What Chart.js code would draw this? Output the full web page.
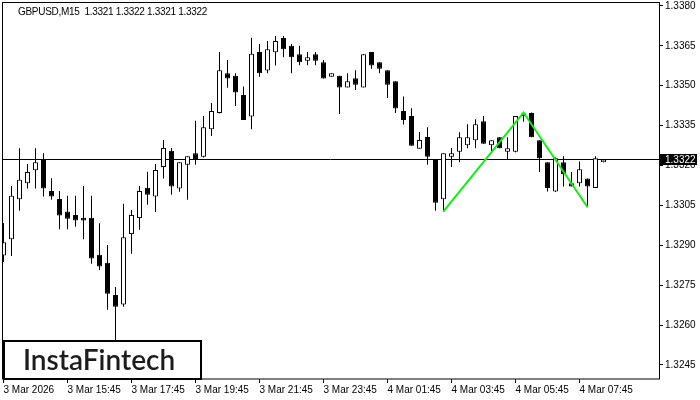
<!DOCTYPE html>
<html>
<head>
<meta charset="utf-8">
<script src="https://cdn.jsdelivr.net/npm/chart.js@4.4.1/dist/chart.umd.min.js"></script>
<style>
  html, body { margin: 0; padding: 0; background: #fff; }
  canvas { display: block; }
</style>
</head>
<body>
<canvas id="chart" width="700" height="400"></canvas>
<script>
// GBPUSD M15 candles, index 0 = 3 Mar 13:45, one bar every 15 minutes
const openPrices = [
  1.32861, 1.32923, 1.33073, 1.33133, 1.33182, 1.33224, 1.33104, 1.33074, 1.33027, 1.33014,
  1.33003, 1.33003, 1.32864, 1.32834, 1.32713, 1.32677, 1.32942, 1.33002, 1.33116, 1.33083,
  1.33194, 1.33255, 1.33113, 1.33203, 1.33246, 1.33233, 1.33336, 1.33397, 1.33547, 1.33537,
  1.33465, 1.33384, 1.33627, 1.33557, 1.33626, 1.33679, 1.33650, 1.33618, 1.33594, 1.33618,
  1.33588, 1.33534, 1.33537, 1.33493, 1.33528, 1.33493, 1.33627, 1.33588, 1.33558, 1.33517,
  1.33405, 1.33386, 1.33263, 1.33307, 1.33224, 1.33073, 1.33233, 1.33252, 1.33276, 1.33295,
  1.33366, 1.33276, 1.33306, 1.33252, 1.33252, 1.33386, 1.33397, 1.33295, 1.33212, 1.33102,
  1.33212, 1.33133, 1.33133, 1.33151, 1.33115, 1.33212
];
const highPrices = [
  1.32984, 1.33123, 1.33265, 1.33206, 1.33265, 1.33246, 1.33152, 1.33104, 1.33086, 1.33086,
  1.33123, 1.33086, 1.32983, 1.32901, 1.32743, 1.33056, 1.33033, 1.33123, 1.33176, 1.33206,
  1.33296, 1.33266, 1.33212, 1.33235, 1.33368, 1.33386, 1.33435, 1.33627, 1.33597, 1.33547,
  1.33497, 1.33680, 1.33657, 1.33668, 1.33687, 1.33687, 1.33657, 1.33650, 1.33627, 1.33627,
  1.33597, 1.33547, 1.33537, 1.33547, 1.33558, 1.33618, 1.33627, 1.33588, 1.33558, 1.33517,
  1.33459, 1.33415, 1.33326, 1.33344, 1.33224, 1.33246, 1.33266, 1.33325, 1.33355, 1.33374,
  1.33386, 1.33295, 1.33306, 1.33306, 1.33386, 1.33399, 1.33399, 1.33295, 1.33212, 1.33230,
  1.33235, 1.33175, 1.33215, 1.33151, 1.33235, 1.33222
];
const lowPrices = [
  1.32837, 1.32860, 1.33030, 1.33113, 1.33113, 1.33083, 1.33071, 1.32960, 1.32960, 1.32970,
  1.32923, 1.32830, 1.32807, 1.32657, 1.32542, 1.32669, 1.32868, 1.32958, 1.33052, 1.33025,
  1.33151, 1.33090, 1.33101, 1.33071, 1.33203, 1.33230, 1.33311, 1.33395, 1.33492, 1.33424,
  1.33371, 1.33336, 1.33534, 1.33547, 1.33576, 1.33607, 1.33547, 1.33577, 1.33577, 1.33577,
  1.33527, 1.33534, 1.33394, 1.33493, 1.33484, 1.33493, 1.33564, 1.33547, 1.33454, 1.33397,
  1.33354, 1.33274, 1.33263, 1.33203, 1.33030, 1.33027, 1.33194, 1.33212, 1.33265, 1.33265,
  1.33282, 1.33252, 1.33265, 1.33224, 1.33250, 1.33364, 1.33306, 1.33175, 1.33102, 1.33100,
  1.33121, 1.33121, 1.33121, 1.33043, 1.33115, 1.33212
];
const closePrices = [
  1.32911, 1.33086, 1.33146, 1.33175, 1.33212, 1.33113, 1.33083, 1.33012, 1.33000, 1.32993,
  1.32993, 1.32850, 1.32820, 1.32718, 1.32669, 1.32930, 1.33014, 1.33104, 1.33090, 1.33183,
  1.33266, 1.33121, 1.33212, 1.33235, 1.33224, 1.33344, 1.33405, 1.33558, 1.33527, 1.33474,
  1.33371, 1.33620, 1.33547, 1.33637, 1.33668, 1.33637, 1.33607, 1.33588, 1.33607, 1.33594,
  1.33527, 1.33547, 1.33493, 1.33517, 1.33504, 1.33618, 1.33576, 1.33564, 1.33504, 1.33414,
  1.33371, 1.33274, 1.33296, 1.33233, 1.33060, 1.33246, 1.33246, 1.33306, 1.33306, 1.33355,
  1.33282, 1.33295, 1.33265, 1.33265, 1.33386, 1.33395, 1.33306, 1.33227, 1.33115, 1.33227,
  1.33167, 1.33121, 1.33186, 1.33121, 1.33227, 1.33222
];

// pattern line (double top): bar index / price
const patternIndex = [55, 65, 73];
const patternPrices = [1.33027, 1.33399, 1.33043];

const xTickIndex = [0, 8, 16, 24, 32, 40, 48, 56, 64, 72];
const xTickLabels = ['3 Mar 2026', '3 Mar 15:45', '3 Mar 17:45', '3 Mar 19:45', '3 Mar 21:45',
  '3 Mar 23:45', '4 Mar 01:45', '4 Mar 03:45', '4 Mar 05:45', '4 Mar 07:45'];
const yTickLabels = ['1.3245', '1.3260', '1.3275', '1.3290', '1.3305', '1.3320', '1.3335', '1.3350', '1.3365', '1.3380'];

const symbolTitle = 'GBPUSD,M15  1.3321 1.3322 1.3321 1.3322';
const lastPrice = 1.3322;
const lastPriceLabel = '1.3322';
const logoText = 'InstaFintech';

const axisFont = { family: 'Liberation Sans', size: 10 };

document.addEventListener('DOMContentLoaded', () => {
  const wicks = lowPrices.map((lo, i) => ({ x: i, y: [lo, highPrices[i]] }));
  const bodies = openPrices.map((o, i) => ({ x: i, y: [Math.min(o, closePrices[i]), Math.max(o, closePrices[i])] }));
  const bodyColors = openPrices.map((o, i) => (closePrices[i] >= o ? '#ffffff' : '#000000'));
  const pattern = patternIndex.map((x, i) => ({ x: x, y: patternPrices[i] }));

  const chartDecor = {
    id: 'chartDecor',
    beforeDatasetsDraw(chart) {
      const { ctx, chartArea } = chart;
      const py = Math.round(chart.scales.y.getPixelForValue(lastPrice)) - 0.5;
      ctx.save();
      ctx.strokeStyle = '#000';
      ctx.lineWidth = 1;
      ctx.beginPath();
      ctx.moveTo(chartArea.left, py);
      ctx.lineTo(chartArea.right, py);
      ctx.stroke();
      ctx.restore();
    },
    afterDraw(chart) {
      const { ctx, chartArea } = chart;
      ctx.save();
      // frame
      ctx.strokeStyle = '#000';
      ctx.lineWidth = 1;
      ctx.strokeRect(chartArea.left + 0.5, chartArea.top - 0.5, chartArea.right - chartArea.left, chartArea.bottom - chartArea.top + 0.5);

      // title
      ctx.fillStyle = '#000';
      ctx.font = '10px "Liberation Sans"';
      ctx.textBaseline = 'alphabetic';
      ctx.textAlign = 'left';
      ctx.letterSpacing = '-0.3px';
      ctx.fillText(symbolTitle, 18, 14.5);
      ctx.letterSpacing = '0px';

      // current price box
      const py = Math.round(chart.scales.y.getPixelForValue(lastPrice)) - 0.5;
      ctx.fillStyle = '#000';
      ctx.fillRect(chartArea.right + 1, py - 5.5, 37, 11);
      ctx.fillStyle = '#fff';
      ctx.textBaseline = 'middle';
      ctx.fillText(lastPriceLabel, chartArea.right + 6, py + 0.5);

      // logo
      ctx.fillStyle = '#fff';
      ctx.fillRect(4, 341, 197, 38);
      ctx.strokeStyle = '#000';
      ctx.lineWidth = 2;
      ctx.strokeRect(4, 341, 197, 38);
      ctx.fillStyle = '#1c1c1c';
      ctx.font = '600 28px Lato';
      ctx.textBaseline = 'alphabetic';
      ctx.fillText(logoText, 23, 369.5, 158);
      ctx.restore();
    }
  };

  new Chart(document.getElementById('chart'), {
    type: 'bar',
    data: {
      datasets: [
        {
          type: 'line',
          data: pattern,
          borderColor: '#11ee11',
          borderWidth: 2,
          pointRadius: 0,
          fill: false,
          order: 0
        },
        {
          data: bodies,
          backgroundColor: bodyColors,
          borderColor: '#000',
          borderWidth: 1,
          borderSkipped: false,
          barThickness: 5,
          inflateAmount: 0,
          grouped: false,
          order: 1
        },
        {
          data: wicks,
          backgroundColor: '#000',
          borderWidth: 0,
          barThickness: 1,
          inflateAmount: 0,
          grouped: false,
          order: 2
        }
      ]
    },
    options: {
      responsive: false,
      animation: false,
      layout: { padding: { left: 2, top: 3, right: 0, bottom: 0 } },
      scales: {
        x: {
          type: 'linear',
          offset: false,
          min: -0.1875,
          max: 81.9375,
          afterBuildTicks: s => { s.ticks = xTickIndex.map(v => ({ value: v })); },
          afterFit: s => { s.height = 21; s.paddingLeft = 0; s.paddingRight = 0; },
          ticks: {
            align: 'start',
            maxRotation: 0,
            autoSkip: false,
            padding: 1,
            color: '#000',
            font: axisFont,
            callback: v => xTickLabels[xTickIndex.indexOf(v)]
          },
          grid: { display: true, offset: false, drawOnChartArea: false, drawTicks: true, tickLength: 4, color: '#000' },
          border: { display: false }
        },
        y: {
          position: 'right',
          min: 1.32397,
          max: 1.33811,
          afterBuildTicks: s => { s.ticks = yTickLabels.map(t => ({ value: parseFloat(t) })); },
          afterFit: s => { s.width = 41; s.paddingTop = 0; s.paddingBottom = 0; },
          ticks: {
            padding: 2,
            color: '#000',
            font: axisFont,
            callback: v => yTickLabels.find(t => Math.abs(parseFloat(t) - v) < 1e-7)
          },
          grid: { display: true, drawOnChartArea: false, drawTicks: true, tickLength: 4, color: '#000' },
          border: { display: false }
        }
      },
      plugins: {
        legend: { display: false },
        tooltip: { enabled: false }
      }
    },
    plugins: [chartDecor]
  });
});
</script>
</body>
</html>
